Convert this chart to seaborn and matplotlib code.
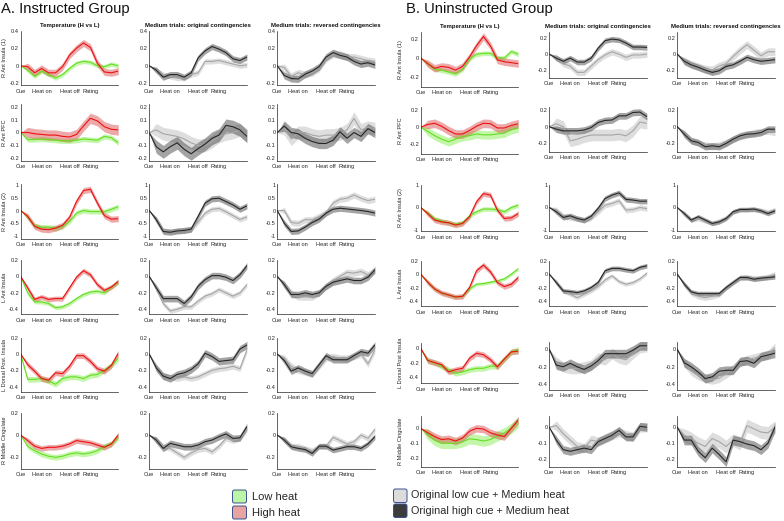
import numpy as np
import pandas as pd
import matplotlib
matplotlib.use("Agg")
import matplotlib.pyplot as plt
import seaborn as sns
from matplotlib.patches import FancyBboxPatch

# ---------------- data ----------------
time_points = list(range(15))
x_ticks = [0, 3, 7, 10]
x_tick_labels = ["Cue", "Heat on", "Heat off", "Rating"]
column_titles = ["Temperature (H vs L)", "Medium trials: original contingencies",
                 "Medium trials: reversed contingencies"]
region_labels_A = ["R Ant Insula (1)", "R Ant PFC", "R Ant Insula (2)", "L Ant Insula",
                   "L Dorsal Post. Insula", "R Middle Cingulate"]
region_labels_B = ["R Ant Insula (1)", "R Ant PFC", "R Ant Insula (2)", "L Ant Insula",
                   "L Dorsal Post Insula", "R Middle Cingulate"]
legend_temp = ["Low heat", "High heat"]
legend_cue = ["Original low cue + Medium heat", "Original high cue + Medium heat"]

# ---- Group A (Instructed) ----
A_low_heat = [
    [0, -0.05, -0.12, -0.06, -0.1, -0.14, -0.1, -0.03, 0.03, 0.05, 0.04, 0.0, -0.01, 0.02, 0.0],
    [0, -0.055, -0.055, -0.05, -0.055, -0.06, -0.065, -0.065, -0.06, -0.05, -0.055, -0.06, -0.03, -0.04, -0.08],
    [0, -0.25, -0.6, -0.65, -0.65, -0.7, -0.62, -0.43, -0.1, 0.0, -0.04, -0.04, -0.05, 0.05, 0.15],
    [0, -0.2, -0.31, -0.31, -0.33, -0.38, -0.37, -0.33, -0.27, -0.22, -0.19, -0.18, -0.2, -0.13, -0.07],
    [0, -0.31, -0.31, -0.3, -0.33, -0.37, -0.3, -0.28, -0.28, -0.3, -0.26, -0.25, -0.2, -0.14, -0.05],
    [0, -0.1, -0.14, -0.17, -0.19, -0.2, -0.19, -0.17, -0.16, -0.17, -0.16, -0.14, -0.1, -0.08, -0.02],
]
A_high_heat = [
    [0, -0.01, -0.08, -0.03, -0.08, -0.08, -0.01, 0.12, 0.2, 0.26, 0.21, 0.03, -0.07, -0.08, -0.06],
    [0, 0, -0.01, -0.015, -0.02, -0.02, -0.03, -0.035, -0.015, 0.05, 0.11, 0.09, 0.045, 0.025, 0.02],
    [0, -0.23, -0.62, -0.73, -0.75, -0.69, -0.58, -0.27, 0.35, 0.78, 0.83, 0.29, -0.2, -0.34, -0.32],
    [0, -0.14, -0.28, -0.25, -0.28, -0.27, -0.27, -0.14, -0.01, 0.07, 0.02, -0.1, -0.17, -0.13, -0.06],
    [0, -0.13, -0.21, -0.3, -0.32, -0.23, -0.24, -0.15, -0.02, -0.02, -0.09, -0.18, -0.21, -0.14, 0.01],
    [0, -0.05, -0.1, -0.12, -0.11, -0.11, -0.1, -0.08, -0.05, -0.06, -0.07, -0.09, -0.11, -0.08, 0.0],
]
A_orig_low = [
    [0, -0.05, -0.1, -0.12, -0.14, -0.14, -0.1, -0.08, 0.05, 0.05, 0.06, 0.04, 0.02, 0.0, 0.01],
    [0, 0.02, -0.01, -0.02, -0.03, -0.05, -0.08, -0.1, -0.1, -0.07, -0.03, -0.01, 0.0, 0.02, -0.02],
    [0, -0.35, -0.78, -0.82, -0.8, -0.78, -0.75, -0.45, -0.1, 0.05, 0.08, -0.05, -0.2, -0.35, -0.25],
    [0, -0.15, -0.33, -0.42, -0.4, -0.37, -0.37, -0.3, -0.24, -0.21, -0.16, -0.2, -0.24, -0.2, -0.1],
    [0, -0.17, -0.27, -0.28, -0.3, -0.28, -0.3, -0.28, -0.24, -0.2, -0.18, -0.17, -0.15, -0.18, 0.05],
    [0, -0.05, -0.1, -0.12, -0.16, -0.2, -0.16, -0.13, -0.12, -0.15, -0.1, -0.03, -0.05, -0.03, 0.05],
]
A_orig_high = [
    [0, -0.05, -0.13, -0.1, -0.1, -0.13, -0.08, 0.09, 0.17, 0.22, 0.19, 0.15, 0.08, 0.06, 0.1],
    [0, -0.11, -0.15, -0.11, -0.08, -0.13, -0.165, -0.125, -0.09, -0.045, -0.02, 0.055, 0.045, 0.02, -0.03],
    [0, -0.36, -0.82, -0.85, -0.8, -0.78, -0.73, -0.23, 0.29, 0.46, 0.48, 0.35, 0.22, 0.05, 0.18],
    [0, -0.14, -0.27, -0.27, -0.27, -0.33, -0.25, -0.12, -0.04, 0.01, 0.01, -0.01, -0.05, 0.02, 0.13],
    [0, -0.17, -0.27, -0.3, -0.25, -0.23, -0.19, -0.12, 0.01, -0.03, -0.09, -0.08, -0.07, 0.06, 0.11],
    [0, -0.045, -0.12, -0.075, -0.09, -0.105, -0.105, -0.09, -0.06, -0.045, -0.015, 0.01, -0.03, -0.025, 0.075],
]
A_rev_low = [
    [0, -0.02, -0.12, -0.08, -0.1, -0.08, -0.03, 0.08, 0.13, 0.13, 0.1, 0.1, 0.08, 0.06, 0.05],
    [0, 0.03, -0.05, 0.0, 0.0, -0.02, -0.03, -0.02, -0.02, -0.01, 0.02, 0.11, 0.02, 0.04, 0.03],
    [0, 0.0, -0.47, -0.5, -0.36, -0.36, -0.23, -0.08, 0.29, 0.44, 0.48, 0.61, 0.48, 0.39, 0.44],
    [0, -0.1, -0.2, -0.25, -0.25, -0.25, -0.2, -0.12, -0.05, 0.0, 0.05, 0.04, 0.06, 0.02, 0.08],
    [0, -0.05, -0.15, -0.2, -0.22, -0.25, -0.15, -0.05, -0.03, -0.05, -0.05, -0.03, 0.0, -0.12, 0.05],
    [0, -0.04, -0.1, -0.1, -0.12, -0.14, -0.1, -0.1, -0.02, -0.05, -0.08, -0.06, 0.0, -0.03, 0.05],
]
A_rev_high = [
    [0, -0.11, -0.145, -0.15, -0.095, -0.06, -0.01, 0.1, 0.15, 0.12, 0.1, 0.05, 0.02, 0.035, 0.01],
    [0, 0.05, 0.0, -0.01, -0.045, -0.07, -0.085, -0.085, -0.06, 0.005, -0.045, 0.0, -0.03, 0.03, 0.0],
    [0, -0.5, -0.82, -0.8, -0.65, -0.47, -0.34, -0.1, 0.05, 0.09, 0.06, 0.03, 0.0, -0.04, -0.1],
    [0, -0.1, -0.22, -0.22, -0.2, -0.22, -0.2, -0.12, -0.07, -0.05, -0.03, -0.05, -0.05, -0.01, 0.08],
    [0, -0.08, -0.21, -0.17, -0.21, -0.24, -0.13, -0.02, -0.07, -0.07, -0.07, -0.02, 0.03, 0.01, 0.11],
    [0, -0.045, -0.105, -0.12, -0.13, -0.165, -0.1, -0.1, -0.135, -0.12, -0.105, -0.105, -0.12, -0.08, -0.015],
]

# ---- Group B (Uninstructed) ----
B_low_heat = [
    [0, -0.06, -0.12, -0.13, -0.15, -0.17, -0.12, -0.01, 0.04, 0.05, 0.05, 0.0, 0.0, 0.07, 0.04],
    [0, -0.05, -0.1, -0.14, -0.17, -0.14, -0.11, -0.1, -0.08, -0.09, -0.09, -0.08, -0.07, -0.03, -0.01],
    [0, -0.25, -0.5, -0.6, -0.68, -0.75, -0.68, -0.38, -0.19, -0.07, -0.07, -0.09, -0.19, 0.0, 0.1],
    [0, -0.12, -0.22, -0.28, -0.31, -0.34, -0.33, -0.22, -0.15, -0.14, -0.12, -0.1, -0.07, 0.0, 0.08],
    [0, -0.17, -0.2, -0.25, -0.3, -0.35, -0.33, -0.3, -0.28, -0.28, -0.25, -0.25, -0.15, -0.05, -0.02],
    [0, -0.04, -0.08, -0.1, -0.1, -0.1, -0.09, -0.07, -0.075, -0.085, -0.075, -0.05, -0.03, 0.0, 0.04],
]
B_high_heat = [
    [0, -0.06, -0.11, -0.09, -0.1, -0.13, -0.09, 0.01, 0.13, 0.23, 0.13, -0.02, -0.04, -0.05, -0.06],
    [0, 0.03, 0.045, 0.01, -0.04, -0.08, -0.08, -0.04, 0.01, 0.045, 0.04, -0.01, -0.01, 0.02, 0.04],
    [0, -0.27, -0.56, -0.64, -0.68, -0.78, -0.71, -0.41, 0.25, 0.62, 0.55, -0.12, -0.49, -0.46, -0.27],
    [0, -0.12, -0.22, -0.28, -0.31, -0.34, -0.33, -0.2, 0.05, 0.135, 0.035, -0.125, -0.185, -0.15, -0.05],
    [0, -0.17, -0.2, -0.23, -0.33, -0.3, -0.28, -0.14, -0.07, -0.09, -0.16, -0.26, -0.15, -0.05, -0.04],
    [0, -0.03, -0.055, -0.075, -0.07, -0.085, -0.065, -0.02, 0.0, -0.005, -0.03, -0.045, -0.055, 0.0, 0.055],
]
B_orig_low = [
    [0, -0.04, -0.12, -0.15, -0.23, -0.23, -0.15, -0.07, -0.01, 0.03, 0.0, -0.04, -0.01, -0.01, 0.0],
    [0, 0.035, 0.0, -0.17, -0.15, -0.12, -0.1, -0.1, -0.1, -0.1, -0.09, -0.11, -0.05, 0.055, 0.04],
    [0, -0.1, -0.38, -0.45, -0.5, -0.58, -0.45, -0.2, 0.1, 0.18, 0.3, -0.12, -0.09, 0.0, -0.05],
    [0, -0.12, -0.25, -0.3, -0.35, -0.3, -0.25, -0.185, -0.085, -0.025, -0.11, -0.15, -0.125, -0.07, 0.015],
    [0, -0.15, -0.2, -0.22, -0.22, -0.2, -0.18, -0.1, -0.12, -0.05, -0.1, -0.12, -0.05, 0.02, 0.03],
    [0, 0.01, -0.04, -0.08, -0.12, -0.13, -0.08, -0.09, -0.07, -0.05, -0.03, -0.05, -0.06, 0.0, 0.0],
]
B_orig_high = [
    [0, -0.05, -0.09, -0.05, -0.1, -0.1, -0.05, 0.075, 0.17, 0.19, 0.18, 0.14, 0.09, 0.09, 0.085],
    [0, -0.03, -0.05, -0.05, -0.05, -0.04, -0.01, 0.05, 0.075, 0.08, 0.13, 0.13, 0.17, 0.175, 0.12],
    [0, -0.19, -0.44, -0.37, -0.49, -0.56, -0.39, -0.04, 0.4, 0.55, 0.65, 0.36, 0.33, 0.28, 0.28],
    [0, -0.125, -0.25, -0.26, -0.275, -0.25, -0.2, -0.125, 0.05, 0.085, 0.085, 0.065, 0.05, 0.1, 0.125],
    [0, -0.18, -0.2, -0.16, -0.2, -0.23, -0.19, -0.13, -0.05, -0.05, -0.05, -0.05, -0.01, 0.04, 0.04],
    [0, -0.08, -0.14, -0.15, -0.14, -0.13, -0.14, -0.09, -0.07, -0.05, -0.02, -0.06, -0.06, 0.005, 0.0],
]
B_rev_low = [
    [0, -0.09, -0.13, -0.16, -0.19, -0.2, -0.15, -0.12, -0.03, 0.05, 0.12, 0.05, -0.02, 0.03, 0.03],
    [0, -0.08, -0.16, -0.2, -0.22, -0.24, -0.22, -0.19, -0.15, -0.12, -0.1, -0.07, -0.06, -0.05, -0.07],
    [0, -0.3, -0.55, -0.5, -0.6, -0.7, -0.6, -0.45, -0.2, -0.1, -0.1, -0.1, -0.12, -0.2, -0.1],
    [0, -0.15, -0.28, -0.33, -0.35, -0.33, -0.3, -0.2, -0.12, -0.06, -0.05, -0.06, -0.06, -0.04, 0.0],
    [0, -0.15, -0.25, -0.3, -0.33, -0.35, -0.33, -0.28, -0.22, -0.15, -0.12, -0.1, -0.08, -0.06, 0.02],
    [0, -0.05, -0.07, -0.1, -0.12, -0.07, -0.09, -0.12, -0.08, -0.1, 0.01, -0.01, -0.03, -0.035, 0.0],
]
B_rev_high = [
    [0, -0.09, -0.135, -0.165, -0.2, -0.23, -0.21, -0.155, -0.135, -0.09, -0.04, -0.07, -0.09, -0.08, -0.07],
    [0, -0.09, -0.17, -0.19, -0.24, -0.23, -0.24, -0.2, -0.15, -0.11, -0.09, -0.085, -0.07, -0.03, -0.03],
    [0, -0.27, -0.56, -0.41, -0.56, -0.71, -0.64, -0.49, -0.19, -0.09, -0.09, -0.07, -0.15, -0.27, -0.15],
    [0, -0.15, -0.265, -0.29, -0.29, -0.29, -0.29, -0.2, -0.125, -0.05, -0.05, -0.075, -0.06, -0.05, -0.04],
    [0, -0.155, -0.2, -0.26, -0.335, -0.315, -0.25, -0.24, -0.24, -0.14, -0.13, -0.16, -0.085, -0.065, -0.045],
    [0, -0.08, -0.08, -0.15, -0.19, -0.13, -0.17, -0.215, -0.08, -0.09, -0.105, -0.115, -0.14, -0.1, 0.0],
]

# standard-error half widths (per row)
A_low_heat_se = [0.025, 0.02, 0.1, 0.025, 0.035, 0.025]
A_high_heat_se = [0.04, 0.04, 0.12, 0.03, 0.035, 0.025]
A_orig_low_se = [0.03, 0.05, 0.1, 0.03, 0.035, 0.025]
A_orig_high_se = [0.035, 0.05, 0.12, 0.04, 0.045, 0.03]
A_rev_low_se = [0.04, 0.05, 0.12, 0.04, 0.04, 0.025]
A_rev_high_se = [0.04, 0.04, 0.12, 0.04, 0.04, 0.025]
B_low_heat_se = [0.025, 0.05, 0.1, 0.025, 0.04, 0.035]
B_high_heat_se = [0.04, 0.05, 0.12, 0.04, 0.04, 0.025]
B_orig_low_se = [0.04, 0.07, 0.12, 0.03, 0.06, 0.03]
B_orig_high_se = [0.035, 0.04, 0.12, 0.035, 0.05, 0.025]
B_rev_low_se = [0.05, 0.04, 0.1, 0.04, 0.05, 0.04]
B_rev_high_se = [0.04, 0.04, 0.1, 0.035, 0.05, 0.03]

# ---------------- layout (pixels) ----------------
W, H = 784, 521
A_cols = [20.7, 149.3, 277.3]
B_cols = [420.7, 549.3, 677.3]
PW = 97.6
A_rows = [((-0.22, 0.4), 30.7, 85.1, [-0.2, 0, 0.2, 0.4]),
          ((-0.22, 0.22), 104.1, 160.9, [-0.2, -0.1, 0, 0.1, 0.2]),
          ((-1.1, 1.05), 183.7, 238.6, [-1, -0.5, 0, 0.5, 1]),
          ((-0.46, 0.2), 260, 314.2, [-0.4, -0.2, 0, 0.2]),
          ((-0.46, 0.2), 337.7, 391.6, [-0.4, -0.2, 0, 0.2]),
          ((-0.3, 0.2), 412.7, 468.5, [-0.2, 0, 0.2])]
B_rows_c1 = [((-0.31, 0.28), 31.8, 87.0, [-0.2, 0, 0.2]),
             ((-0.31, 0.23), 107.4, 153.7, [-0.2, 0, 0.2]),
             ((-1.05, 1.0), 185, 231.1, [-1, 0, 1]),
             ((-0.48, 0.2), 260.7, 306.4, [-0.4, -0.2, 0, 0.2]),
             ((-0.49, 0.08), 342.6, 383.3, [-0.4, -0.2, 0]),
             ((-0.256, 0.08), 416.3, 466.7, [-0.2, -0.1, 0])]
B_rows_c23 = [((-0.3, 0.28), 32, 77.9, [-0.2, 0, 0.2]),
              ((-0.3, 0.23), 107.5, 151.7, [-0.2, 0, 0.2]),
              ((-1.05, 1.0), 185, 231.1, [-1, 0, 1]),
              ((-0.48, 0.2), 260.7, 306.4, [-0.4, -0.2, 0, 0.2]),
              ((-0.465, 0.08), 342.3, 390, [-0.4, -0.2, 0]),
              ((-0.246, 0.07), 416, 466.7, [-0.2, -0.1, 0])]

# ---------------- style ----------------
sns.set_style("white")
plt.rcParams['font.family'] = ['Liberation Sans', 'DejaVu Sans']
plt.rcParams['axes.unicode_minus'] = False

RED = "#ee1010"
RED_BAND = "#dd5555"
GREEN = "#66dd22"
GREEN_BAND = "#88ee55"
LIGHT = "#a6a6a6"
LIGHT_BAND = "#c8c8c8"
DARK = "#262626"
DARK_BAND = "#5a5a5a"

fig = plt.figure(figsize=(W / 100, H / 100), dpi=100)

def draw_series(ax, values, se, band_color, band_alpha):
    df = pd.DataFrame({"t": time_points, "v": values})
    half = np.array([0.0] + [se] * (len(values) - 1))
    v = np.array(values)
    ax.fill_between(df["t"], v - half, v + half, color=band_color, alpha=band_alpha,
                    linewidth=0)
    return df

def make_axes(left_px, row_spec):
    (ylo, yhi), top, bot, yt = row_spec
    ax = fig.add_axes([left_px / W, 1 - bot / H, PW / W, (bot - top) / H])
    ax.set_xlim(0, 14)
    ax.set_ylim(ylo, yhi)
    ax.set_yticks(yt)
    ax.set_yticklabels(["%g" % t for t in yt])
    ax.set_xticks(x_ticks)
    ax.set_xticklabels(x_tick_labels)
    ax.tick_params(axis="both", labelsize=4.1, length=1.5, width=0.4, direction="in",
                   pad=1.2, colors="#262626")
    ax.tick_params(axis="x", pad=2.5)
    for s in ["top", "right"]:
        ax.spines[s].set_visible(False)
    for s in ["left", "bottom"]:
        ax.spines[s].set_linewidth(0.5)
        ax.spines[s].set_color("#262626")
    ax.set_facecolor("white")
    return ax

groups = [
    ("A", A_cols, [A_rows] * 3, region_labels_A,
     (A_low_heat, A_high_heat, A_orig_low, A_orig_high, A_rev_low, A_rev_high),
     (A_low_heat_se, A_high_heat_se, A_orig_low_se, A_orig_high_se, A_rev_low_se, A_rev_high_se), -0.14),
    ("B", B_cols, [B_rows_c1, B_rows_c23, B_rows_c23], region_labels_B,
     (B_low_heat, B_high_heat, B_orig_low, B_orig_high, B_rev_low, B_rev_high),
     (B_low_heat_se, B_high_heat_se, B_orig_low_se, B_orig_high_se, B_rev_low_se, B_rev_high_se), -0.18),
]

for gname, cols, rowspecs, rlabels, series, ses, ylab_x in groups:
    low, high, olow, ohigh, rlow, rhigh = series
    low_se, high_se, olow_se, ohigh_se, rlow_se, rhigh_se = ses
    for r in range(6):
        for c in range(3):
            ax = make_axes(cols[c], rowspecs[c][r])
            if c == 0:
                d1 = draw_series(ax, low[r], low_se[r], GREEN_BAND, 0.5)
                d2 = draw_series(ax, high[r], high_se[r], RED_BAND, 0.5)
                sns.lineplot(data=d1, x="t", y="v", color=GREEN, linewidth=0.8, ax=ax)
                sns.lineplot(data=d2, x="t", y="v", color=RED, linewidth=0.8, ax=ax)
            else:
                lo, hi = (olow, ohigh) if c == 1 else (rlow, rhigh)
                lo_se, hi_se = (olow_se, ohigh_se) if c == 1 else (rlow_se, rhigh_se)
                d1 = draw_series(ax, lo[r], lo_se[r], LIGHT_BAND, 0.6)
                d2 = draw_series(ax, hi[r], hi_se[r], DARK_BAND, 0.55)
                sns.lineplot(data=d1, x="t", y="v", color=LIGHT, linewidth=0.8, ax=ax)
                sns.lineplot(data=d2, x="t", y="v", color=DARK, linewidth=0.8, ax=ax)
            ax.set_xlabel("")
            ax.set_ylabel("")
            if c == 0:
                ax.set_ylabel(rlabels[r], fontsize=4.1, color="#262626")
                ax.yaxis.set_label_coords(ylab_x, 0.5)
            if r == 0:
                ax.set_title(column_titles[c], fontsize=4.3, fontweight="bold",
                             pad=3, color="#111111")
            ax.set_xlim(0, 14)

# ---------------- overlay: headers + legends ----------------
ov = fig.add_axes([0, 0, 1, 1], zorder=10)
ov.set_xlim(0, W)
ov.set_ylim(H, 0)
ov.axis("off")
ov.patch.set_alpha(0)

ov.text(1, 2.5, "A. Instructed Group", fontsize=10.6, va="top", ha="left", color="#111111")
ov.text(406, 2.5, "B. Uninstructed Group", fontsize=10.6, va="top", ha="left", color="#111111")

def legend_box(x, y, w, h, fc):
    p = FancyBboxPatch((x, y), w, h, boxstyle="round,pad=0,rounding_size=2",
                       facecolor=fc, edgecolor="#3a4f8f", linewidth=0.7)
    ov.add_patch(p)

legend_box(232.5, 490, 14, 13, "#bdf5a6")
legend_box(232.5, 506, 14, 13, "#e8a3a3")
ov.text(252, 497, legend_temp[0], fontsize=8, va="center", ha="left")
ov.text(252, 513, legend_temp[1], fontsize=8, va="center", ha="left")

legend_box(393.5, 489, 13.5, 13.5, "#dcdcdc")
legend_box(393.5, 504, 13.5, 13.5, "#3c3c3c")
ov.text(411.5, 495.5, legend_cue[0], fontsize=7.8, va="center", ha="left")
ov.text(411.5, 510.5, legend_cue[1], fontsize=7.8, va="center", ha="left")

fig.savefig("out.png", dpi=100)
